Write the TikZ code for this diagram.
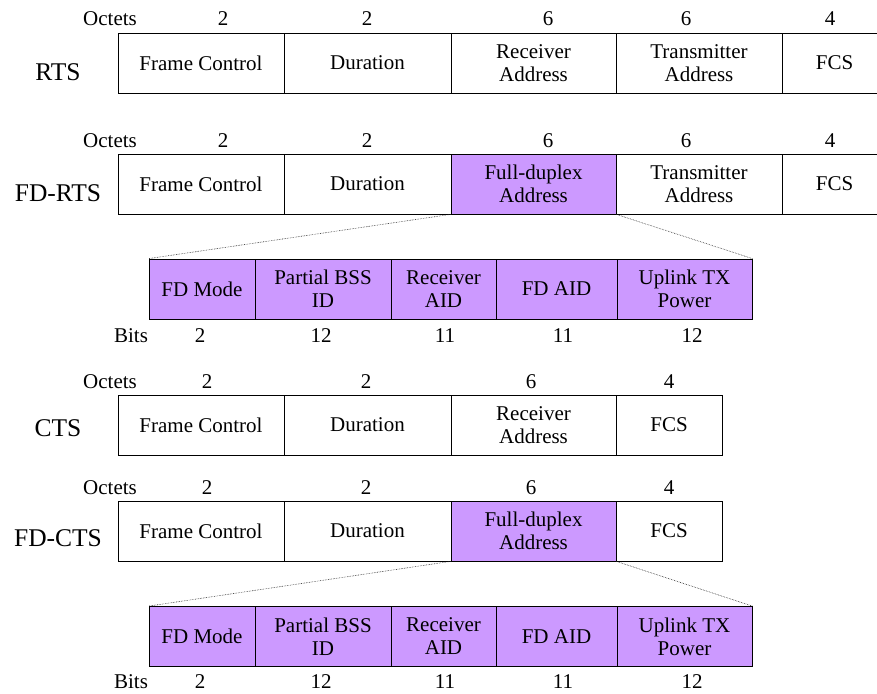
\documentclass[tikz,border=0pt]{standalone}
\usepackage{fontspec}
\setmainfont{Liberation Serif}
\definecolor{fdpurple}{RGB}{204,153,255}
\newcommand\fsmall{\fontsize{21}{23}\selectfont}
\newcommand\flarge{\fontsize{25.5}{28}\selectfont}
\begin{document}
\begin{tikzpicture}[x=1pt,y=-1pt,
  cell/.style={draw, line width=0.8pt, minimum height=60pt, inner sep=0pt, align=center, font=\fsmall},
  fdcell/.style={cell, fill=fdpurple},
  lbl/.style={anchor=base, inner sep=0pt, font=\fsmall},
  frame/.style={inner sep=0pt, font=\flarge},
  zoomline/.style={line width=0.6pt, densely dotted, black!85}]
\clip (0,0) rectangle (877,693);
% ---------------- RTS ----------------
\node[lbl] (o1) at (110,26) {Octets};
\node[lbl] (o1a) at (223,26) {2};
\node[lbl] (o1b) at (367,26) {2};
\node[lbl] (o1c) at (548,26) {6};
\node[lbl] (o1d) at (686,26) {6};
\node[lbl] (o1e) at (830,26) {4};
\node[frame] (rts) at (58,72) {RTS};
\node[cell, minimum width=166pt] (r1) at (201,63) {Frame Control};
\node[cell, minimum width=167pt] (r2) at (367.5,63) {Duration};
\node[cell, minimum width=165pt] (r3) at (533.5,63) {Receiver\\Address};
\node[cell, minimum width=166pt] (r4) at (699,63) {Transmitter\\Address};
\node[cell, minimum width=105pt] (r5) at (834.5,63) {FCS};
% ---------------- FD-RTS ----------------
\node[lbl] (o2) at (110,147) {Octets};
\node[lbl] (o2a) at (223,147) {2};
\node[lbl] (o2b) at (367,147) {2};
\node[lbl] (o2c) at (548,147) {6};
\node[lbl] (o2d) at (686,147) {6};
\node[lbl] (o2e) at (830,147) {4};
\node[frame] (fdrts) at (58,193) {FD-RTS};
\node[cell, minimum width=166pt] (f1) at (201,184) {Frame Control};
\node[cell, minimum width=167pt] (f2) at (367.5,184) {Duration};
\node[fdcell, minimum width=165pt] (f3) at (533.5,184) {Full-duplex\\Address};
\node[cell, minimum width=166pt] (f4) at (699,184) {Transmitter\\Address};
\node[cell, minimum width=105pt] (f5) at (834.5,184) {FCS};
% sub fields
\node[fdcell, minimum width=106pt] (s1) at (202,289) {FD Mode};
\node[fdcell, minimum width=136pt] (s2) at (323,289) {Partial BSS\\ID};
\node[fdcell, minimum width=105pt] (s3) at (443.5,289) {Receiver\\AID};
\node[fdcell, minimum width=121pt] (s4) at (556.5,289) {FD AID};
\node[fdcell, minimum width=135pt] (s5) at (684.5,289) {Uplink TX\\Power};
\draw[zoomline] (f3.south west) -- (s1.north west);
\draw[zoomline] (f3.south east) -- (s5.north east);
\node[lbl] (b1) at (131,342) {Bits};
\node[lbl] (b1a) at (200,342) {2};
\node[lbl] (b1b) at (321,342) {12};
\node[lbl] (b1c) at (445,342) {11};
\node[lbl] (b1d) at (563,342) {11};
\node[lbl] (b1e) at (692,342) {12};
% ---------------- CTS ----------------
\node[lbl] (o3) at (110,388) {Octets};
\node[lbl] (o3a) at (207,388) {2};
\node[lbl] (o3b) at (366,388) {2};
\node[lbl] (o3c) at (531,388) {6};
\node[lbl] (o3d) at (669,388) {4};
\node[frame] (cts) at (58,428) {CTS};
\node[cell, minimum width=166pt] (c1) at (201,425) {Frame Control};
\node[cell, minimum width=167pt] (c2) at (367.5,425) {Duration};
\node[cell, minimum width=165pt] (c3) at (533.5,425) {Receiver\\Address};
\node[cell, minimum width=106pt] (c4) at (669,425) {FCS};
% ---------------- FD-CTS ----------------
\node[lbl] (o4) at (110,494) {Octets};
\node[lbl] (o4a) at (207,494) {2};
\node[lbl] (o4b) at (366,494) {2};
\node[lbl] (o4c) at (531,494) {6};
\node[lbl] (o4d) at (669,494) {4};
\node[frame] (fdcts) at (58,538) {FD-CTS};
\node[cell, minimum width=166pt] (g1) at (201,531) {Frame Control};
\node[cell, minimum width=167pt] (g2) at (367.5,531) {Duration};
\node[fdcell, minimum width=165pt] (g3) at (533.5,531) {Full-duplex\\Address};
\node[cell, minimum width=106pt] (g4) at (669,531) {FCS};
% sub fields
\node[fdcell, minimum width=106pt] (t1) at (202,636.5) {FD Mode};
\node[fdcell, minimum width=136pt] (t2) at (323,636.5) {Partial BSS\\ID};
\node[fdcell, minimum width=105pt] (t3) at (443.5,636.5) {Receiver\\AID};
\node[fdcell, minimum width=121pt] (t4) at (556.5,636.5) {FD AID};
\node[fdcell, minimum width=135pt] (t5) at (684.5,636.5) {Uplink TX\\Power};
\draw[zoomline] (g3.south west) -- (t1.north west);
\draw[zoomline] (g3.south east) -- (t5.north east);
\node[lbl] (b2) at (131,688) {Bits};
\node[lbl] (b2a) at (200,688) {2};
\node[lbl] (b2b) at (321,688) {12};
\node[lbl] (b2c) at (445,688) {11};
\node[lbl] (b2d) at (563,688) {11};
\node[lbl] (b2e) at (692,688) {12};
\end{tikzpicture}
\end{document}
